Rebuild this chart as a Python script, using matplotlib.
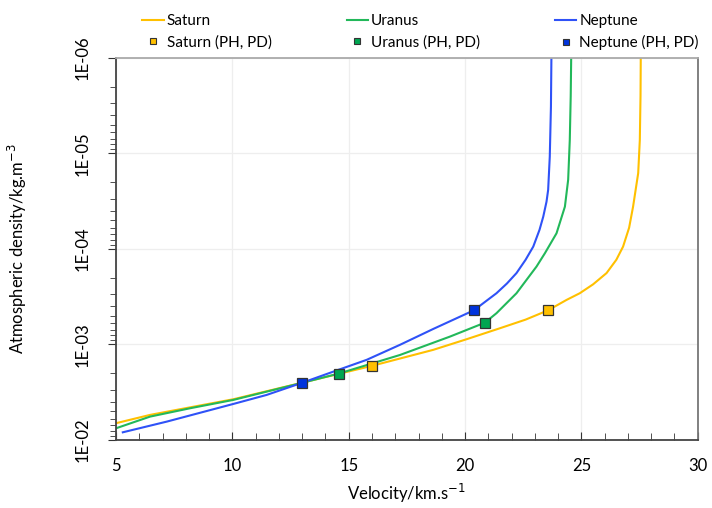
import matplotlib.pyplot as plt
from matplotlib.ticker import FuncFormatter, LogLocator, MultipleLocator
from matplotlib.lines import Line2D

plt.rcParams['font.family'] = ['Lato', 'DejaVu Sans']

# velocity (km/s) vs atmospheric density (kg/m^3)
saturn_v = [5.0, 6.46, 8.2, 10.04, 12.9, 15.98, 18.63, 20.06, 21.49, 22.6, 23.57,
            24.36, 24.93, 25.5, 26.08, 26.5, 26.79, 27.05, 27.22, 27.44, 27.51, 27.54, 27.55]
saturn_d = [6.68e-3, 5.47e-3, 4.55e-3, 3.75e-3, 2.55e-3, 1.68e-3, 1.14e-3, 8.83e-4, 6.78e-4,
            5.5e-4, 4.39e-4, 3.42e-4, 2.91e-4, 2.35e-4, 1.79e-4, 1.3e-4, 9.46e-5, 6.0e-5,
            3.61e-5, 1.61e-5, 7.23e-6, 2.5e-6, 1.0e-6]

uranus_v = [5.0, 6.46, 8.2, 10.04, 12.98, 14.57, 17.2, 19.35, 20.85, 21.35, 22.21, 23.07,
            23.43, 23.93, 24.29, 24.43, 24.5, 24.54, 24.56]
uranus_d = [7.55e-3, 5.7e-3, 4.65e-3, 3.81e-3, 2.53e-3, 2.02e-3, 1.29e-3, 8.28e-4, 5.92e-4,
            4.71e-4, 2.91e-4, 1.53e-4, 1.11e-4, 6.86e-5, 3.61e-5, 1.89e-5, 7.23e-6, 2.5e-6, 1.0e-6]

neptune_v = [5.29, 7.18, 10.04, 11.47, 12.98, 14.33, 15.77, 17.2, 18.63, 20.38, 21.35,
             21.8, 22.21, 22.6, 22.93, 23.2, 23.36, 23.5, 23.57, 23.64, 23.69, 23.71]
neptune_d = [8.32e-3, 6.43e-3, 4.2e-3, 3.38e-3, 2.53e-3, 1.93e-3, 1.45e-3, 1.01e-3, 6.89e-4,
             4.39e-4, 2.91e-4, 2.3e-4, 1.79e-4, 1.3e-4, 9.46e-5, 6.3e-5, 4.59e-5, 3.2e-5,
             2.41e-5, 1.08e-5, 3.24e-6, 1.0e-6]

# (PH, PD) points
saturn_pts_v = [15.98, 23.57]
saturn_pts_d = [1.68e-3, 4.39e-4]
uranus_pts_v = [14.57, 20.85]
uranus_pts_d = [2.02e-3, 5.92e-4]
neptune_pts_v = [12.98, 20.38]
neptune_pts_d = [2.53e-3, 4.39e-4]

c_sat = '#FFC000'
c_ura = '#22B85A'
c_nep = '#2F52F7'
m_sat = '#FFC000'
m_ura = '#00A651'
m_nep = '#0033DD'

fig = plt.figure(figsize=(7.12, 5.08), dpi=100)
ax = fig.add_axes([0.163, 0.134, 0.817, 0.752])

ax.plot(saturn_v, saturn_d, color=c_sat, lw=1.5)
ax.plot(uranus_v, uranus_d, color=c_ura, lw=1.5)
ax.plot(neptune_v, neptune_d, color=c_nep, lw=1.5)

mk = dict(marker='s', ms=6.5, ls='none', mec='#333333', mew=0.9, zorder=5)
ax.plot(saturn_pts_v, saturn_pts_d, mfc=m_sat, **mk)
ax.plot(uranus_pts_v, uranus_pts_d, mfc=m_ura, **mk)
ax.plot(neptune_pts_v, neptune_pts_d, mfc=m_nep, **mk)

ax.set_yscale('log')
ax.set_ylim(1e-2, 1e-6)
ax.set_xlim(5, 30)

ax.xaxis.set_major_locator(MultipleLocator(5))
ax.xaxis.set_minor_locator(MultipleLocator(1))
ax.yaxis.set_major_locator(LogLocator(base=10))
ax.yaxis.set_minor_locator(LogLocator(base=10, subs=range(2, 10)))
ax.yaxis.set_major_formatter(FuncFormatter(lambda v, p: f"{v:.0E}"))

ax.tick_params(axis='x', which='both', direction='in', labelsize=12, pad=13, color='#333333')
ax.tick_params(axis='x', which='major', length=6)
ax.tick_params(axis='x', which='minor', length=5)
ax.tick_params(axis='y', which='both', direction='out', labelsize=12, pad=12, color='#333333')
ax.tick_params(axis='y', which='major', length=6)
ax.tick_params(axis='y', which='minor', length=4)
for lab in ax.get_yticklabels():
    lab.set_rotation(90)
    lab.set_va('center')

ax.grid(True, which='major', color='#eeeeee', lw=0.9)
ax.set_axisbelow(True)

for s in ['left', 'bottom']:
    ax.spines[s].set_color('#444444')
    ax.spines[s].set_linewidth(1.3)
ax.spines['right'].set_color('#777777')
ax.spines['right'].set_linewidth(1.3)
ax.spines['top'].set_color('#aaaaaa')
ax.spines['top'].set_linewidth(1.3)

ax.set_xlabel('Velocity/km.s$^{-1}$', fontsize=12, labelpad=6)
ax.set_ylabel('Atmospheric density/kg.m$^{-3}$', fontsize=12)
ax.yaxis.set_label_coords(-0.150, 0.5)

handles = [
    Line2D([], [], color=c_sat, lw=1.5),
    Line2D([], [], mfc=m_sat, marker='s', ms=5, ls='none', mec='#333333', mew=0.8),
    Line2D([], [], color=c_ura, lw=1.5),
    Line2D([], [], mfc=m_ura, marker='s', ms=5, ls='none', mec='#333333', mew=0.8),
    Line2D([], [], color=c_nep, lw=1.5),
    Line2D([], [], mfc=m_nep, marker='s', ms=5, ls='none', mec='#333333', mew=0.8),
]
labels = ['Saturn', 'Saturn (PH, PD)', 'Uranus', 'Uranus (PH, PD)', 'Neptune', 'Neptune (PH, PD)']
fig.legend(handles, labels, ncol=3, loc='upper left', bbox_to_anchor=(0.187, 0.99),
           frameon=False, fontsize=11, handlelength=1.4, handletextpad=0.2,
           columnspacing=4.9, labelspacing=0.45, borderaxespad=0.2)

fig.savefig('out.png', dpi=100)
